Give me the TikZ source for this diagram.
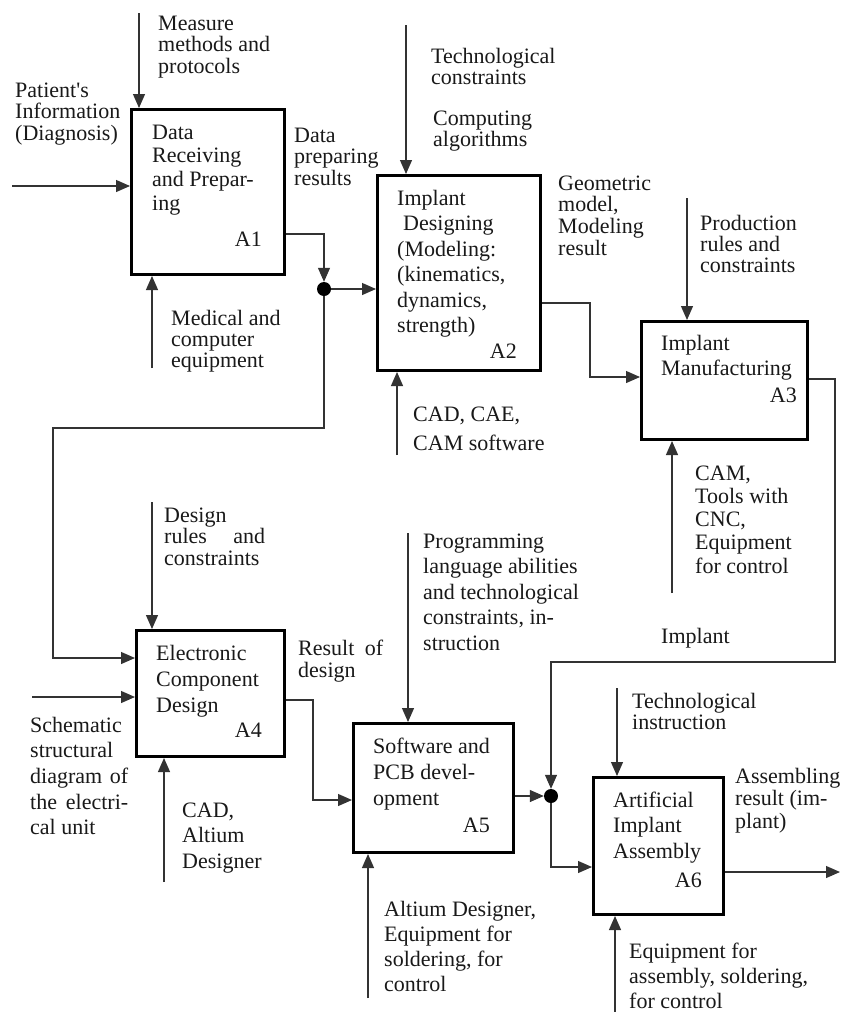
\documentclass[tikz,border=0pt]{standalone}
\usepackage{fontspec}
\setmainfont{Liberation Serif}
\usetikzlibrary{arrows.meta}
% multi-line label: first argument is the line pitch, baseline of the node = first line
\newcommand\ml[2]{\fontsize{22}{#1}\selectfont\begin{tabular}[t]{@{}l@{}}#2\end{tabular}}
\tikzset{
  x=1pt, y=-1pt,
  fn/.style={draw=black, line width=3pt, rectangle, inner sep=0pt, anchor=north west},
  arr/.style={draw=black!80, line width=1.2pt, -{Triangle[length=14pt,width=12pt]}},
  dot/.style={circle, fill=black, inner sep=0pt, minimum size=14pt},
  lbl/.style={anchor=base west, inner sep=0pt, text=black!90},
  num/.style={anchor=base east, inner sep=0pt, text=black!90, font=\fontsize{22}{22}\selectfont},
}
\begin{document}
\begin{tikzpicture}
\useasboundingbox[fill=white] (0,0) rectangle (844,1012);

% function boxes
\node[fn, minimum width=153pt, minimum height=165pt] (a1) at (130,108) {};
\node[fn, minimum width=163pt, minimum height=195pt] (a2) at (376,174) {};
\node[fn, minimum width=166pt, minimum height=118pt] (a3) at (640,320) {};
\node[fn, minimum width=148pt, minimum height=126pt] (a4) at (135,629) {};
\node[fn, minimum width=160pt, minimum height=129pt] (a5) at (352,722) {};
\node[fn, minimum width=130pt, minimum height=137pt] (a6) at (592,776) {};

% box texts
\node[lbl] (a1t) at (152,139) {\ml{23.7}{Data\\Receiving\\and Prepar-\\ing}};
\node[num] (a1n) at (262,246) {A1};
\node[lbl] (a2t) at (397,205) {\ml{25.5}{Implant\\\hspace{6pt}Designing\\(Modeling:\\(kinematics,\\dynamics,\\strength)}};
\node[num] (a2n) at (517,358) {A2};
\node[lbl] (a3t) at (661,350) {\ml{25}{Implant\\Manufacturing}};
\node[num] (a3n) at (797,402) {A3};
\node[lbl] (a4t) at (156,660) {\ml{26}{Electronic\\Component\\Design}};
\node[num] (a4n) at (262,737) {A4};
\node[lbl] (a5t) at (373,753) {\ml{26}{Software and\\PCB devel-\\opment}};
\node[num] (a5n) at (490,832) {A5};
\node[lbl] (a6t) at (613,807) {\ml{25.7}{Artificial\\Implant\\Assembly}};
\node[num] (a6n) at (702,887) {A6};

% junctions
\node[dot] (j1) at (324,289) {};
\node[dot] (j2) at (551,796) {};

% free ends and bends
\coordinate (mm) at (139,13);
\coordinate (pi) at (12,186);
\coordinate (me) at (152,368);
\coordinate (k1) at (324,234);
\coordinate (k3) at (53,428);
\coordinate (k4) at (53,658);
\coordinate (tc) at (406,25);
\coordinate (cad) at (397,455);
\coordinate (k5) at (590,303);
\coordinate (k6) at (590,377);
\coordinate (pr) at (687,198);
\coordinate (cam) at (672,593);
\coordinate (k7) at (835,379);
\coordinate (k8) at (835,662);
\coordinate (k9) at (551,662);
\coordinate (dr) at (152,502);
\coordinate (sc) at (32,697);
\coordinate (alt) at (164,882);
\coordinate (k10) at (313,700);
\coordinate (k11) at (313,800);
\coordinate (pl) at (408,533);
\coordinate (ad) at (368,998);
\coordinate (k12) at (551,867);
\coordinate (ti) at (617,688);
\coordinate (eq) at (615,1012);
\coordinate (out) at (840,872);

% A1
\draw[arr] (mm) -- (mm |- a1.north);
\draw[arr] (pi) -- (pi -| a1.west);
\draw[arr] (me) -- (me |- a1.south);
\draw[arr] (k1 -| a1.east) -- (k1) -- (j1.north);
\draw[arr] (j1.east) -- (j1 -| a2.west);
\draw[arr] (j1.south) |- (k3) -- (k4) -- (k4 -| a4.west);
% A2
\draw[arr] (tc) -- (tc |- a2.north);
\draw[arr] (cad) -- (cad |- a2.south);
\draw[arr] (k5 -| a2.east) -- (k5) -- (k6) -- (k6 -| a3.west);
% A3
\draw[arr] (pr) -- (pr |- a3.north);
\draw[arr] (cam) -- (cam |- a3.south);
\draw[arr] (k7 -| a3.east) -- (k7) -- (k8) -- (k9) -- (j2.north);
% A4
\draw[arr] (dr) -- (dr |- a4.north);
\draw[arr] (sc) -- (sc -| a4.west);
\draw[arr] (alt) -- (alt |- a4.south);
\draw[arr] (k10 -| a4.east) -- (k10) -- (k11) -- (k11 -| a5.west);
% A5
\draw[arr] (pl) -- (pl |- a5.north);
\draw[arr] (ad) -- (ad |- a5.south);
\draw[arr] (j2 -| a5.east) -- (j2.west);
\draw[arr] (j2.south) -- (k12) -- (k12 -| a6.west);
% A6
\draw[arr] (ti) -- (ti |- a6.north);
\draw[arr] (eq) -- (eq |- a6.south);
\draw[arr] (out -| a6.east) -- (out);

% arrow labels
\node[lbl] (t-mm) at (158,30) {\ml{21}{Measure\\methods and\\protocols}};
\node[lbl] (t-pi) at (15,97) {\ml{21.5}{Patient\textquotesingle s\\Information\\(Diagnosis)}};
\node[lbl] (t-dp) at (294,142) {\ml{21.5}{Data\\preparing\\results}};
\node[lbl] (t-me) at (171,325) {\ml{21}{Medical and\\computer\\equipment}};
\node[lbl] (t-tc) at (431,63) {\ml{21.5}{Technological\\constraints}};
\node[lbl] (t-ca) at (433,125) {\ml{21}{Computing\\algorithms}};
\node[lbl] (t-gm) at (558,190) {\ml{21.7}{Geometric\\model,\\Modeling\\result}};
\node[lbl] (t-cad) at (413,421) {\ml{29}{CAD, CAE,\\CAM software}};
\node[lbl] (t-pr) at (700,230) {\ml{21}{Production\\rules and\\constraints}};
\node[lbl] (t-cam) at (695,480) {\ml{23.3}{CAM,\\Tools with\\CNC,\\Equipment\\for control}};
\node[lbl] (t-dr) at (164,522) {\ml{21.5}{Design\\\makebox[101pt][s]{rules and}\\constraints}};
\node[lbl] (t-rd) at (298,655) {\ml{22}{\makebox[85pt][s]{Result of}\\design}};
\node[lbl] (t-sc) at (30,732) {\ml{25.7}{Schematic\\structural\\\makebox[98pt][s]{diagram of}\\\makebox[98pt][s]{the electri-}\\cal unit}};
\node[lbl] (t-alt) at (182,817) {\ml{25.5}{CAD,\\Altium\\Designer}};
\node[lbl] (t-pl) at (423,548) {\ml{25.5}{Programming\\language abilities\\and technological\\constraints, in-\\struction}};
\node[lbl] (t-im) at (661,643) {\ml{22}{Implant}};
\node[lbl] (t-ti) at (632,708) {\ml{21}{Technological\\instruction}};
\node[lbl] (t-ar) at (735,783) {\ml{22.5}{Assembling\\result (im-\\plant)}};
\node[lbl] (t-ad) at (384,916) {\ml{25.3}{Altium Designer,\\Equipment for\\soldering, for\\control}};
\node[lbl] (t-eq) at (629,958) {\ml{25}{Equipment for\\assembly, soldering,\\for control}};
\end{tikzpicture}
\end{document}
